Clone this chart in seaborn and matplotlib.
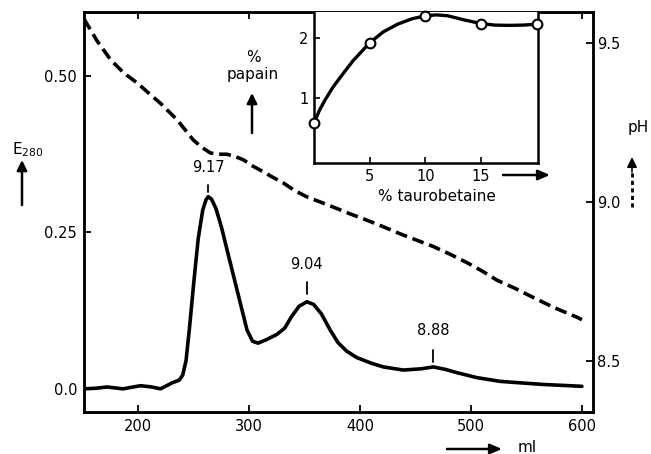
import numpy as np
import pandas as pd
import matplotlib
matplotlib.use("Agg")
import matplotlib.pyplot as plt
import seaborn as sns
from matplotlib.lines import Line2D
from matplotlib.patches import FancyArrowPatch

sns.set_style("ticks")
plt.rcParams['font.family'] = ['DejaVu Sans']
plt.rcParams.update({"axes.edgecolor": "black", "xtick.color": "black", "ytick.color": "black",
                     "text.color": "black", "axes.labelcolor": "black",
                     "lines.solid_joinstyle": "round", "lines.solid_capstyle": "round",
                     "lines.dash_capstyle": "butt"})

# ---- data ----
e_ml = [151, 162, 172, 186, 202, 212, 220, 231, 237, 240, 243, 246, 250, 254, 258, 261, 263,
        266, 270, 275, 280, 289, 298, 303, 308, 316, 325, 332, 338, 345, 352, 358, 365, 373,
        380, 388, 397, 410, 421, 439, 455, 466, 477, 487, 505, 526, 541, 565, 589, 600]
e_abs = [0.0, 0.001, 0.003, 0.0, 0.005, 0.003, 0.0, 0.01, 0.014, 0.022, 0.045, 0.095, 0.17,
         0.24, 0.285, 0.302, 0.307, 0.303, 0.288, 0.258, 0.222, 0.158, 0.094, 0.076, 0.073,
         0.079, 0.087, 0.097, 0.115, 0.132, 0.139, 0.135, 0.12, 0.094, 0.074, 0.060, 0.050,
         0.041, 0.035, 0.030, 0.032, 0.035, 0.031, 0.026, 0.018, 0.012, 0.010, 0.007, 0.005,
         0.004]

ph_ml = [151, 163, 175, 187, 199, 210, 220, 235, 249.5, 258, 265, 272, 280, 288, 295, 302,
         310, 320, 330.6, 341, 352, 364, 375.7, 390, 406, 421, 436, 451, 466, 481, 496, 510,
         523, 540, 556, 575, 595.5, 600]
ph_val = [9.575, 9.505, 9.447, 9.405, 9.374, 9.34, 9.31, 9.258, 9.195, 9.17, 9.154, 9.150,
          9.150, 9.142, 9.132, 9.115, 9.10, 9.08, 9.06, 9.036, 9.016, 9.0, 8.984, 8.964,
          8.943, 8.922, 8.90, 8.88, 8.86, 8.836, 8.81, 8.783, 8.755, 8.728, 8.70, 8.668,
          8.638, 8.63]

peak_ml = [263, 352, 466]
peak_labels = ["9.17", "9.04", "8.88"]

inset_pct = [0, 5, 10, 15, 20]
inset_papain = [0.58, 1.92, 2.37, 2.23, 2.23]
inset_curve_x = [0, 0.5, 1, 1.7, 2.5, 3.5, 5, 6.2, 7.5, 8.8, 10, 11, 12, 13.5, 15, 16.2,
                 17.5, 18.8, 20]
inset_curve_y = [0.58, 0.80, 0.97, 1.18, 1.38, 1.62, 1.92, 2.10, 2.23, 2.32, 2.37, 2.385,
                 2.37, 2.30, 2.24, 2.215, 2.21, 2.215, 2.23]

x_ticks = [200, 300, 400, 500, 600]
e_ticks = [0.0, 0.25, 0.50]
e_ticklabels = ["0.0", "0.25", "0.50"]
ph_ticks = [8.5, 9.0, 9.5]
ph_ticklabels = ["8.5", "9.0", "9.5"]
inset_xticks = [5, 10, 15]
inset_yticks = [1, 2]

# ---- figure ----
W, H = 651, 454
fig = plt.figure(figsize=(W / 100, H / 100), dpi=100)
ax = fig.add_axes([84 / W, 1 - 412 / H, (593 - 84) / W, (412 - 12) / H])

df_e = pd.DataFrame({"ml": e_ml, "E": e_abs})
sns.lineplot(data=df_e, x="ml", y="E", ax=ax, color="black", lw=2.6, sort=False)
ax.set_xlim(151, 610)
ax.set_ylim(-0.037, 0.602)
ax.set_xticks(x_ticks)
ax.set_yticks(e_ticks)
ax.set_yticklabels(e_ticklabels)
ax.set_xlabel("")
ax.set_ylabel("")
ax.tick_params(direction="in", length=5, width=1.3, labelsize=10.5, top=True, pad=5)

ax2 = ax.twinx()
df_p = pd.DataFrame({"ml": ph_ml, "pH": ph_val})
sns.lineplot(data=df_p, x="ml", y="pH", ax=ax2, color="black", lw=2.6, sort=False,
             linestyle=(0, (3.3, 1.6)))
ax2.set_ylim(8.34, 9.597)
ax2.set_yticks(ph_ticks)
ax2.set_yticklabels(ph_ticklabels)
ax2.set_ylabel("")
ax2.tick_params(direction="in", length=5, width=1.3, labelsize=10.5, pad=3)

for a in (ax, ax2):
    for s in a.spines.values():
        s.set_linewidth(1.8)

# peak labels
lab_off = [0.035, 0.048, 0.046]
tick_rng = [(0.008, 0.018), (0.012, 0.032), (0.008, 0.027)]
peak_vals = [np.interp(m, e_ml, e_abs) for m in peak_ml]
for m, t, v, off, (t0, t1) in zip(peak_ml, peak_labels, peak_vals, lab_off, tick_rng):
    ax.text(m, v + off, t, ha="center", va="bottom", fontsize=10.5)
    ax.plot([m, m], [v + t0, v + t1], color="black", lw=1.3)

# ---- inset ----
ins = fig.add_axes([314 / W, 1 - 163 / H, (538 - 314) / W, (163 - 12) / H])
ins.set_facecolor("white")
sns.lineplot(x=inset_curve_x, y=inset_curve_y, ax=ins, color="black", lw=2.4, sort=False)
sns.lineplot(x=inset_pct, y=inset_papain, ax=ins, color="black", lw=0, marker="o",
             markersize=7, markerfacecolor="white", markeredgecolor="black",
             markeredgewidth=1.5, zorder=5)
ins.set_xlim(0, 20.1)
ins.set_ylim(-0.083, 2.433)
ins.set_xticks(inset_xticks)
ins.set_yticks(inset_yticks)
ins.tick_params(direction="in", length=4, width=1.2, labelsize=10.5, pad=4)
for s in ins.spines.values():
    s.set_linewidth(1.8)
ins.spines["top"].set_visible(False)
for c in ins.lines + ins.collections:
    c.set_clip_on(False)

# ---- axis annotations ----
def fx(px):
    return px / W

def fy(py):
    return 1 - py / H

def arrow(p0, p1, lw=1.8, hl=6):
    fig.add_artist(FancyArrowPatch((fx(p0[0]), fy(p0[1])), (fx(p1[0]), fy(p1[1])),
                   transform=fig.transFigure,
                   arrowstyle=f"-|>,head_length={hl},head_width=3",
                   color="black", lw=lw, shrinkA=0, shrinkB=0))

fig.text(fx(28), fy(150), "E$_{\\mathregular{280}}$", ha="center", va="center", fontsize=11)
arrow((22, 205), (22, 160))

fig.text(fx(638), fy(127), "pH", ha="center", va="center", fontsize=11)
fig.add_artist(Line2D([fx(632), fx(632)], [fy(207), fy(170)], transform=fig.transFigure,
                      color="black", lw=2, linestyle=(0, (1.5, 1.2))))
arrow((632, 172), (632, 157), lw=1.2)

fig.text(fx(253), fy(57), "%", ha="center", va="center", fontsize=11)
fig.text(fx(253), fy(75), "papain", ha="center", va="center", fontsize=11)
arrow((252, 133), (252, 93))

fig.text(fx(437), fy(197), "% taurobetaine", ha="center", va="center", fontsize=11)
arrow((503, 175), (550, 175), hl=7)

fig.text(fx(518), fy(447), "ml", ha="left", va="center", fontsize=11)
arrow((447, 449), (502, 449), hl=7)

fig.savefig("out.png", dpi=100)
